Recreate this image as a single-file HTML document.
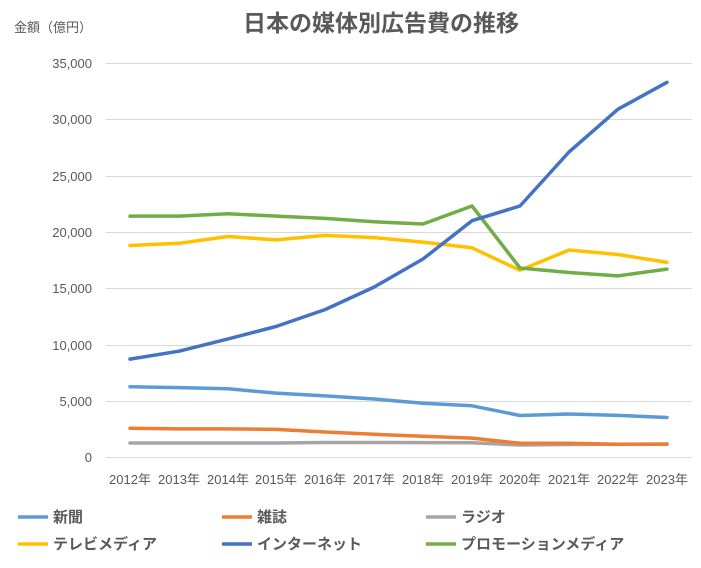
<!DOCTYPE html>
<html><head><meta charset="utf-8"><style>
body{margin:0;background:#fff;}
text{font-family:"Liberation Sans","Noto Sans CJK JP",sans-serif;fill:#595959;}
</style></head><body>
<svg width="701" height="563" xmlns="http://www.w3.org/2000/svg">
<rect width="701" height="563" fill="#fff"/>
<text x="381" y="31" font-size="23" font-weight="bold" text-anchor="middle">日本の媒体別広告費の推移</text>
<text x="14" y="32" font-size="13">金額（億円）</text>
<g stroke="#d9d9d9" stroke-width="1">
<line x1="106" x2="692" y1="63.5" y2="63.5"/>
<line x1="106" x2="692" y1="119.5" y2="119.5"/>
<line x1="106" x2="692" y1="176.5" y2="176.5"/>
<line x1="106" x2="692" y1="232.5" y2="232.5"/>
<line x1="106" x2="692" y1="288.5" y2="288.5"/>
<line x1="106" x2="692" y1="345.5" y2="345.5"/>
<line x1="106" x2="692" y1="401.5" y2="401.5"/>
<line x1="106" x2="692" y1="457.5" y2="457.5"/>
</g>
<g font-size="13" text-anchor="end">
<text x="92" y="68">35,000</text><text x="92" y="124">30,000</text><text x="92" y="181">25,000</text>
<text x="92" y="237">20,000</text><text x="92" y="293">15,000</text><text x="92" y="350">10,000</text>
<text x="92" y="406">5,000</text><text x="92" y="462">0</text>
</g>
<g font-size="13" text-anchor="middle">
<text x="130" y="484">2012年</text><text x="179" y="484">2013年</text><text x="228" y="484">2014年</text>
<text x="276" y="484">2015年</text><text x="325" y="484">2016年</text><text x="374" y="484">2017年</text>
<text x="423" y="484">2018年</text><text x="472" y="484">2019年</text><text x="520" y="484">2020年</text>
<text x="569" y="484">2021年</text><text x="618" y="484">2022年</text><text x="667" y="484">2023年</text>
</g>
<g fill="none" stroke-width="3.5" stroke-linejoin="round" stroke-linecap="round">
<polyline stroke="#a5a5a5" points="130,443 179,443 228,443 276,443 325,442.5 374,442.5 423,442.6 472,442.8 520,445 569,444.5 618,444.3 667,444.2"/>
<polyline stroke="#ed7d31" points="130,428.3 179,428.9 228,428.9 276,429.4 325,432 374,434.3 423,436.3 472,438.1 520,443.3 569,443.3 618,444.2 667,444"/>
<polyline stroke="#5b9bd5" points="130,386.7 179,387.6 228,388.8 276,393.1 325,395.9 374,399 423,403.2 472,405.8 520,415.5 569,414 618,415.4 667,417.5"/>
<polyline stroke="#ffc000" points="130,245.5 179,243.3 228,236.5 276,239.9 325,235.4 374,237.6 423,242.1 472,247.8 520,270.3 569,250 618,254.5 667,262.4"/>
<polyline stroke="#70ad47" points="130,216.1 179,216.1 228,213.8 276,216.1 325,218.4 374,221.8 423,224 472,206 520,268 569,272.5 618,275.9 667,269.1"/>
<polyline stroke="#4472c4" points="130,359.1 179,351.2 228,338.9 276,326.5 325,309.6 374,287.1 423,259 472,220.7 520,206 569,152 618,109.2 667,82.3"/>
</g>
<g stroke-width="3.5">
<line x1="18" x2="48" y1="517" y2="517" stroke="#5b9bd5"/>
<line x1="222" x2="252" y1="517" y2="517" stroke="#ed7d31"/>
<line x1="426" x2="456" y1="517" y2="517" stroke="#a5a5a5"/>
<line x1="18" x2="48" y1="544" y2="544" stroke="#ffc000"/>
<line x1="222" x2="252" y1="544" y2="544" stroke="#4472c4"/>
<line x1="426" x2="456" y1="544" y2="544" stroke="#70ad47"/>
</g>
<g font-size="15" font-weight="bold">
<text x="53" y="522">新聞</text><text x="257" y="522">雑誌</text><text x="461" y="522">ラジオ</text>
<text x="53" y="549">テレビメディア</text><text x="257" y="549">インターネット</text><text x="461" y="549">プロモーションメディア</text>
</g>
</svg>
</body></html>
